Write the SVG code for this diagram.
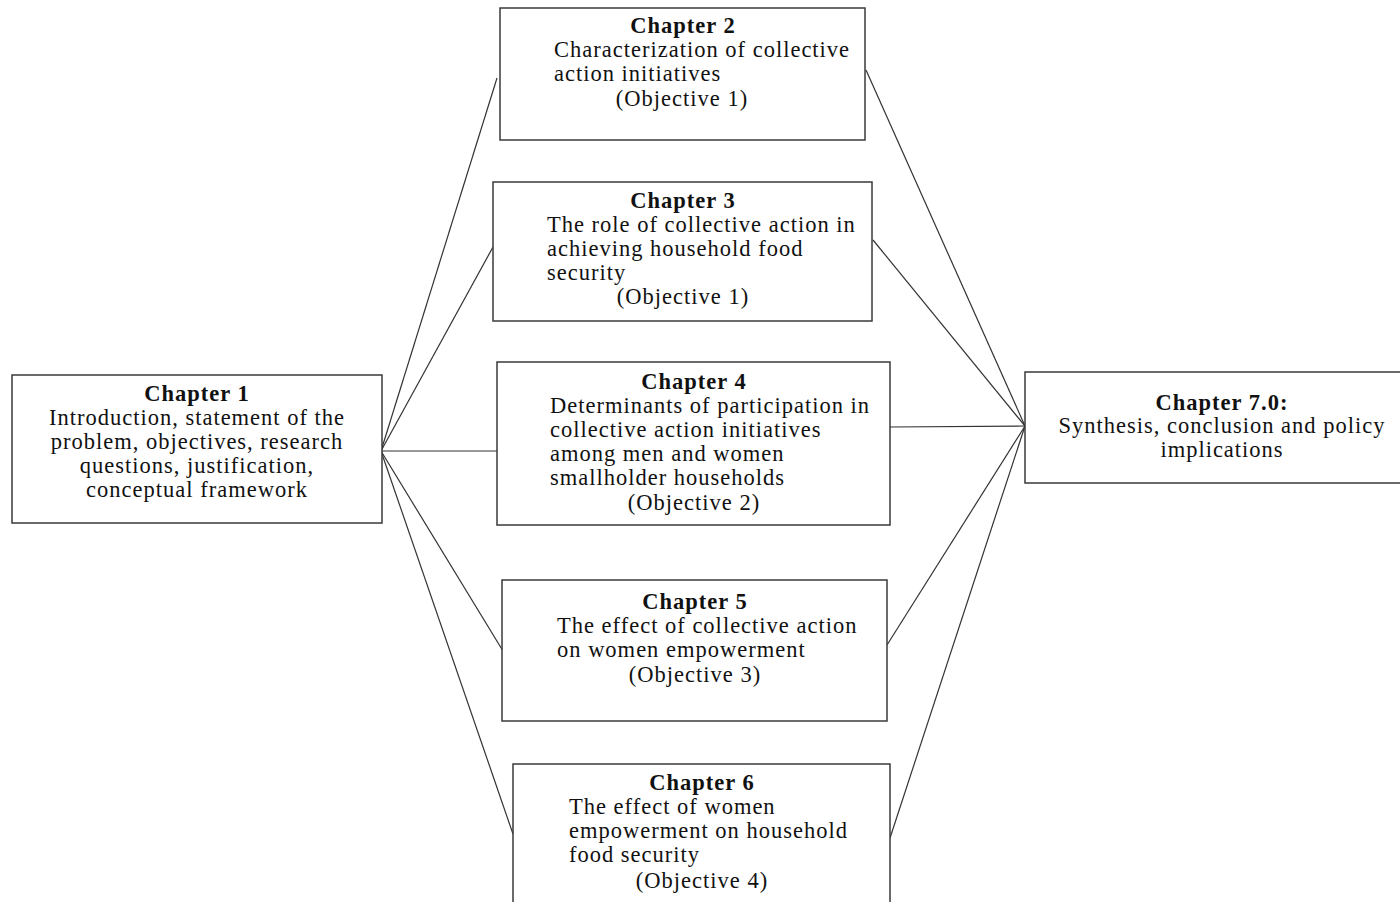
<svg xmlns="http://www.w3.org/2000/svg" width="1400" height="902" viewBox="0 0 1400 902">
  <style>
    .box { fill: #ffffff; stroke: #3a3a3a; stroke-width: 1.5; }
    .link { stroke: #333333; stroke-width: 1.2; fill: none; }
    text { font-family: "Liberation Serif", "Times New Roman", serif; font-size: 22.5px; letter-spacing: 1px; fill: #111111; }
    .h { font-weight: bold; text-anchor: middle; }
    .c { text-anchor: middle; }
  </style>
  <rect width="1400" height="902" fill="#ffffff"/>

  <!-- connectors: chapter 1 fans out to each chapter, each chapter feeds chapter 7 -->
  <g id="connectors">
    <line class="link" x1="381" y1="451" x2="497" y2="78"/>
    <line class="link" x1="381" y1="451" x2="493" y2="247"/>
    <line class="link" x1="381" y1="451" x2="497" y2="451"/>
    <line class="link" x1="381" y1="451" x2="503" y2="651"/>
    <line class="link" x1="381" y1="451" x2="513" y2="834"/>
    <line class="link" x1="866" y1="70" x2="1025" y2="426"/>
    <line class="link" x1="873" y1="240" x2="1025" y2="426"/>
    <line class="link" x1="890" y1="427" x2="1025" y2="426"/>
    <line class="link" x1="887" y1="645" x2="1025" y2="426"/>
    <line class="link" x1="890" y1="838" x2="1025" y2="426"/>
  </g>

  <g id="chapter1">
    <rect class="box" x="12" y="375" width="370" height="148"/>
    <text class="h" x="197" y="401">Chapter 1</text>
    <text class="c" x="197" y="425">Introduction, statement of the</text>
    <text class="c" x="197" y="449">problem, objectives, research</text>
    <text class="c" x="197" y="473">questions, justification,</text>
    <text class="c" x="197" y="497">conceptual framework</text>
  </g>

  <g id="chapter2">
    <rect class="box" x="500" y="8" width="365" height="132"/>
    <text class="h" x="683" y="33">Chapter 2</text>
    <text x="554" y="57">Characterization of collective</text>
    <text x="554" y="81">action initiatives</text>
    <text class="c" x="682" y="106">(Objective 1)</text>
  </g>

  <g id="chapter3">
    <rect class="box" x="493" y="182" width="379" height="139"/>
    <text class="h" x="683" y="208">Chapter 3</text>
    <text x="547" y="232">The role of collective action in</text>
    <text x="547" y="256">achieving household food</text>
    <text x="547" y="280">security</text>
    <text class="c" x="683" y="304">(Objective 1)</text>
  </g>

  <g id="chapter4">
    <rect class="box" x="497" y="362" width="393" height="163"/>
    <text class="h" x="694" y="389">Chapter 4</text>
    <text x="550" y="413">Determinants of participation in</text>
    <text x="550" y="437">collective action initiatives</text>
    <text x="550" y="461">among men and women</text>
    <text x="550" y="485">smallholder households</text>
    <text class="c" x="694" y="510">(Objective 2)</text>
  </g>

  <g id="chapter5">
    <rect class="box" x="502" y="580" width="385" height="141"/>
    <text class="h" x="695" y="609">Chapter 5</text>
    <text x="557" y="633">The effect of collective action</text>
    <text x="557" y="657">on women empowerment</text>
    <text class="c" x="695" y="682">(Objective 3)</text>
  </g>

  <g id="chapter6">
    <rect class="box" x="513" y="764" width="377" height="160"/>
    <text class="h" x="702" y="790">Chapter 6</text>
    <text x="569" y="814">The effect of women</text>
    <text x="569" y="838">empowerment on household</text>
    <text x="569" y="862">food security</text>
    <text class="c" x="702" y="888">(Objective 4)</text>
  </g>

  <g id="chapter7">
    <rect class="box" x="1025" y="372" width="390" height="111"/>
    <text class="h" x="1222" y="410">Chapter 7.0:</text>
    <text class="c" x="1222" y="433">Synthesis, conclusion and policy</text>
    <text class="c" x="1222" y="457">implications</text>
  </g>
</svg>
